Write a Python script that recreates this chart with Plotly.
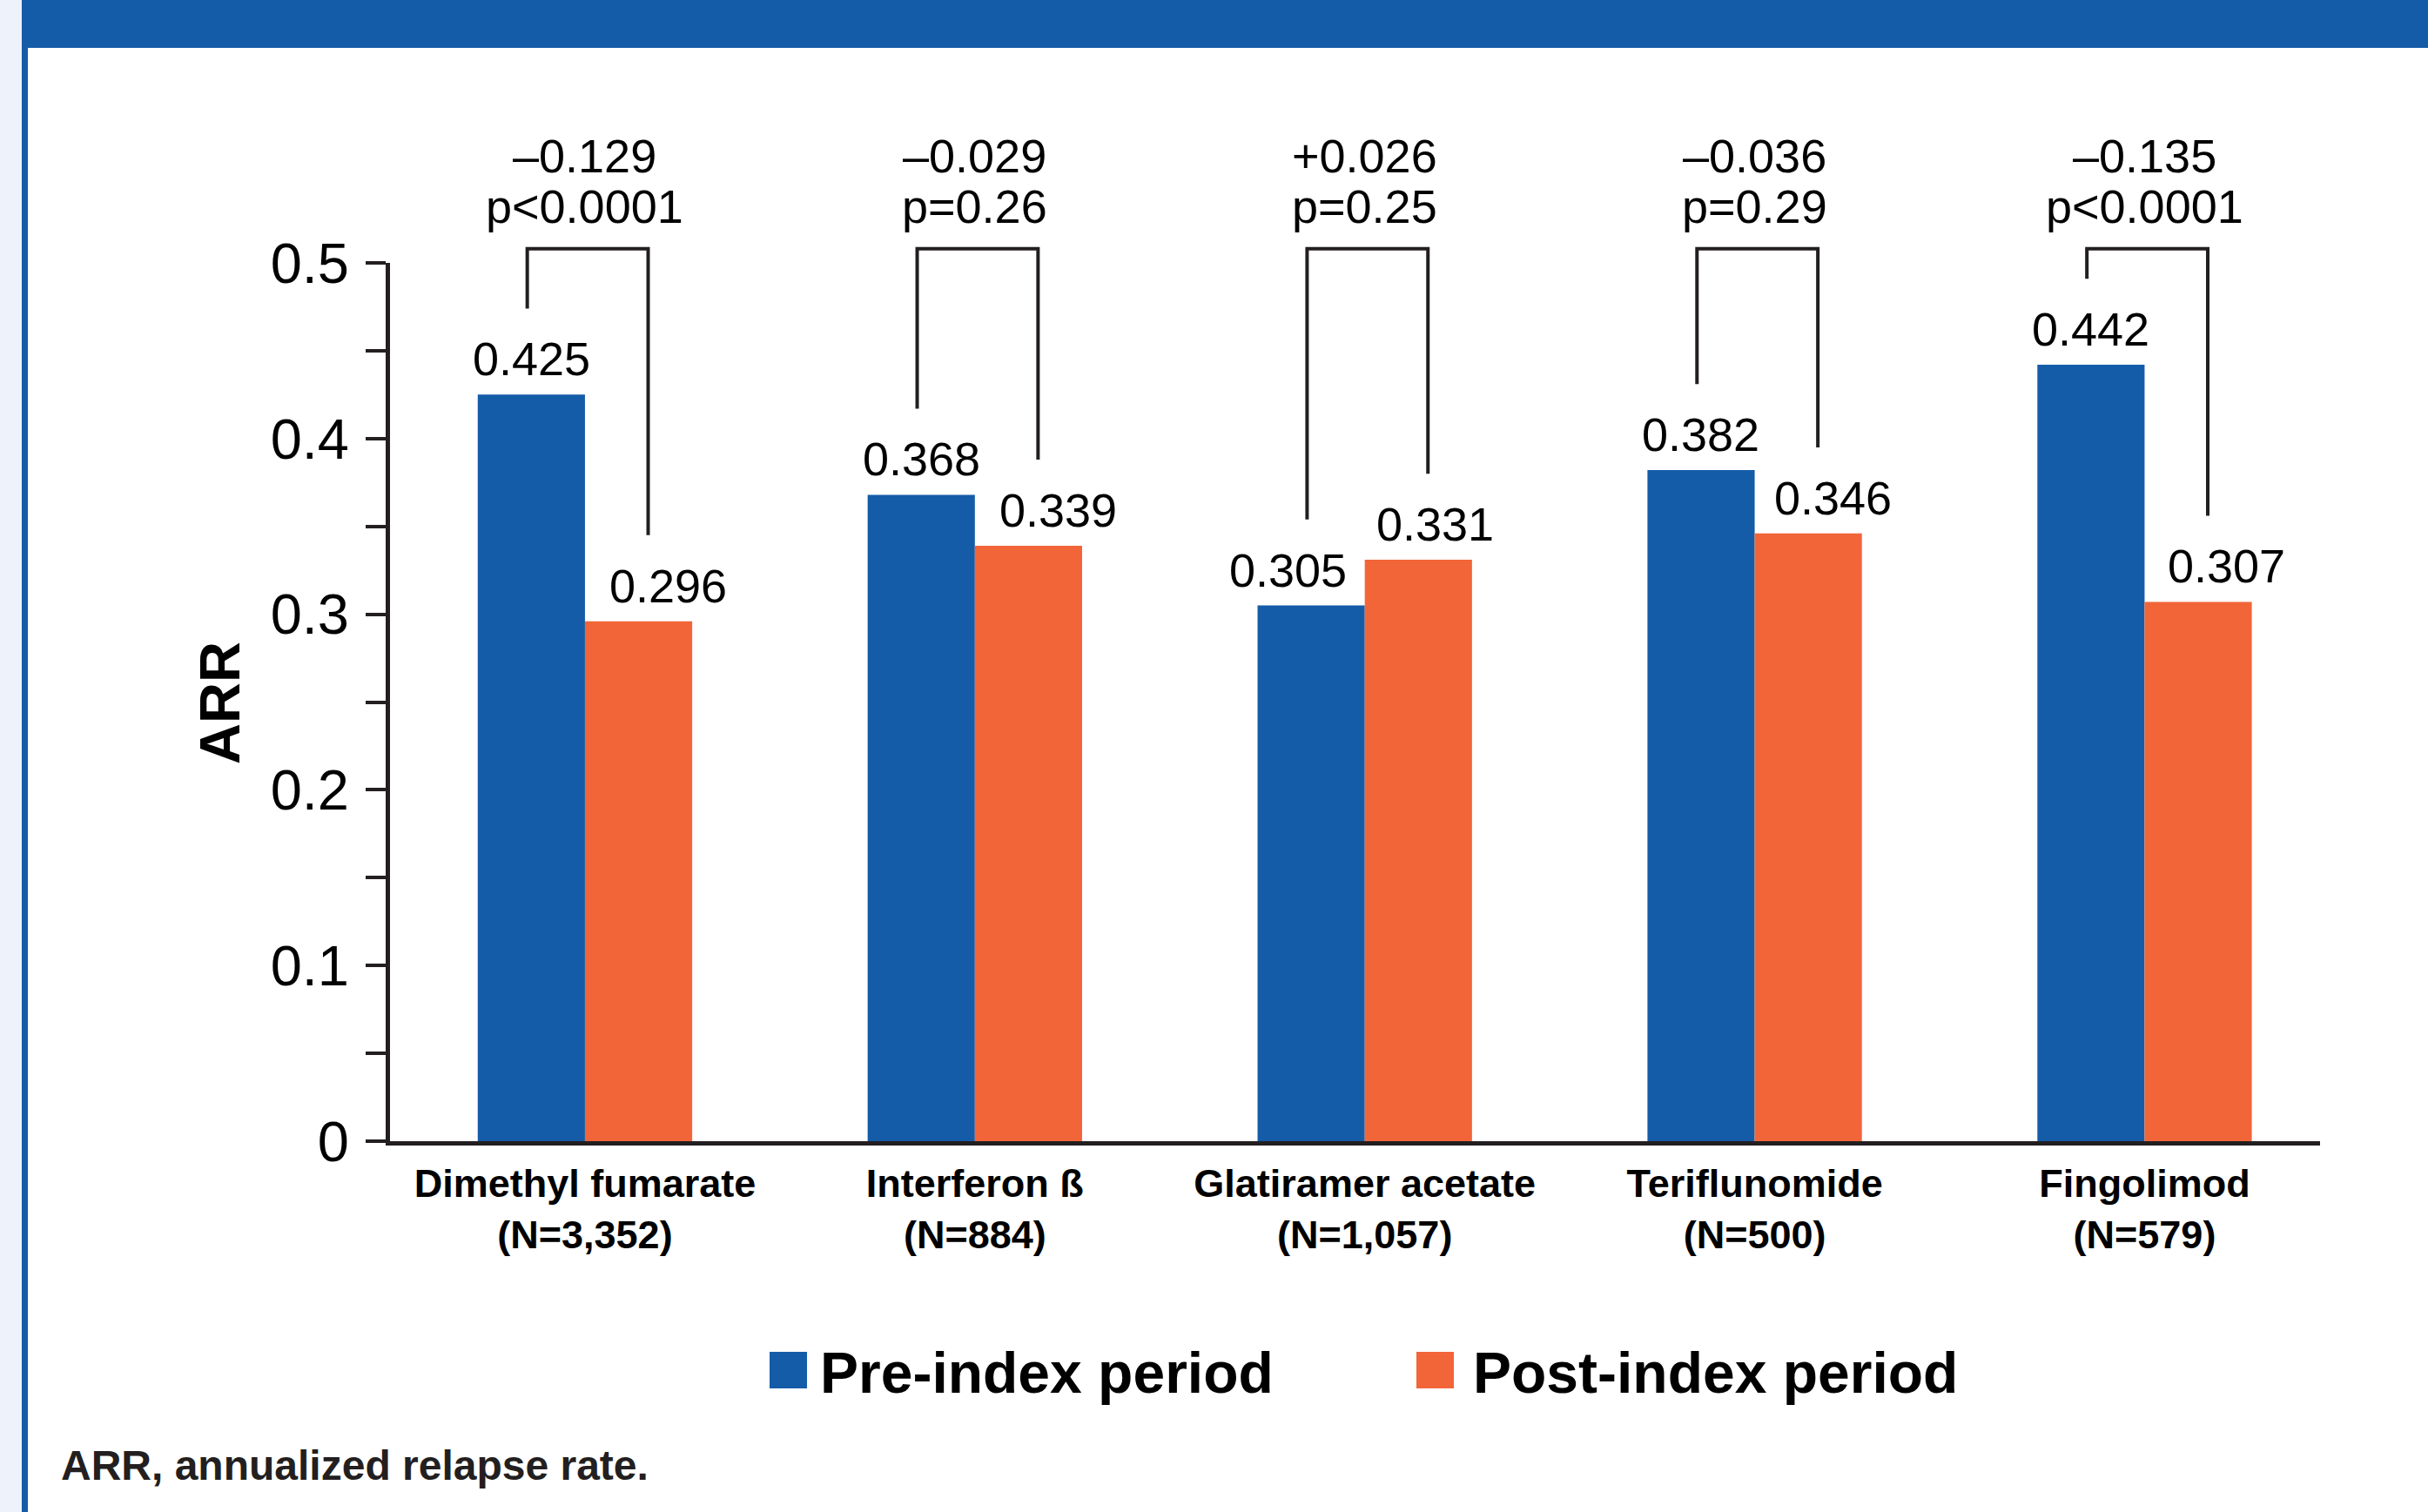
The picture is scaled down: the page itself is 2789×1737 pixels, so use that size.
import plotly.graph_objects as go

# ---------------- data ----------------
drugs = ["Dimethyl fumarate", "Interferon ß", "Glatiramer acetate", "Teriflunomide", "Fingolimod"]
cohort_n = ["3,352", "884", "1,057", "500", "579"]
pre_index = [0.425, 0.368, 0.305, 0.382, 0.442]
post_index = [0.296, 0.339, 0.331, 0.346, 0.307]
differences = ["–0.129", "–0.029", "+0.026", "–0.036", "–0.135"]
p_values = ["p<0.0001", "p=0.26", "p=0.25", "p=0.29", "p<0.0001"]
series_names = ["Pre-index period", "Post-index period"]
y_ticks = [0, 0.1, 0.2, 0.3, 0.4, 0.5]
footnote = "ARR, annualized relapse rate."

# ---------------- styles ----------------
W, H = 2789, 1737
ML, MR, MT, MB = 448, 124, 302, 426
PW, PH = W - ML - MR, H - MT - MB
Y_MAX = 0.5
BLUE = "#155CA8"
ORANGE = "#F26539"
INK = "#231F20"
FONT = "Liberation Sans, Arial, Helvetica, sans-serif"
BARGAP = 0.45
half = (1 - BARGAP) / 4  # bar centre offset from category centre

def px_x(px):
    return (px - ML) / PW

def px_y(py):
    return (H - MB - py) / PH

cat_labels = [f"{d}<br>(N={n})" for d, n in zip(drugs, cohort_n)]
idx = list(range(len(drugs)))

fig = go.Figure()
fig.add_trace(go.Bar(x=idx, y=pre_index, name=series_names[0], marker_color=BLUE,
                     marker_line_width=0, showlegend=False))
fig.add_trace(go.Bar(x=idx, y=post_index, name=series_names[1], marker_color=ORANGE,
                     marker_line_width=0, showlegend=False))

shapes = []
annotations = []

# decorative frame: light strip, blue rule, top banner
shapes.append(dict(type="rect", xref="paper", yref="paper", x0=px_x(0), x1=px_x(25),
                   y0=px_y(H), y1=px_y(0), fillcolor="#EEF2FA", line_width=0, layer="below"))
shapes.append(dict(type="rect", xref="paper", yref="paper", x0=px_x(25), x1=px_x(32),
                   y0=px_y(H), y1=px_y(0), fillcolor=BLUE, line_width=0, layer="below"))
shapes.append(dict(type="rect", xref="paper", yref="paper", x0=px_x(25), x1=px_x(W),
                   y0=px_y(55), y1=px_y(0), fillcolor=BLUE, line_width=0, layer="below"))

# value labels
blue_nudge = [0, 0, -27, 0, 0]
orange_nudge = [34, 34, 19, 28, 32]
for i in idx:
    annotations.append(dict(x=i - half, y=pre_index[i], xref="x", yref="y",
                            text=f"{pre_index[i]:.3f}", showarrow=False, yanchor="middle",
                            yshift=41, xshift=blue_nudge[i],
                            font=dict(family=FONT, size=54, color="black")))
    annotations.append(dict(x=i + half, y=post_index[i], xref="x", yref="y",
                            text=f"{post_index[i]:.3f}", showarrow=False, yanchor="middle",
                            yshift=41, xshift=orange_nudge[i],
                            font=dict(family=FONT, size=54, color="black")))
    # difference and p-value above each group
    annotations.append(dict(x=i, y=Y_MAX, xref="x", yref="y", text=differences[i],
                            showarrow=False, yanchor="middle", yshift=123,
                            font=dict(family=FONT, size=54, color="black")))
    annotations.append(dict(x=i, y=Y_MAX, xref="x", yref="y", text=p_values[i],
                            showarrow=False, yanchor="middle", yshift=65,
                            font=dict(family=FONT, size=54, color="black")))
    # comparison bracket (y in paper units so it may rise above the axis top)
    top = 0.508 / Y_MAX
    xl, xr = i - 0.148, i + 0.162
    yl, yr = (pre_index[i] + 0.049) / Y_MAX, (post_index[i] + 0.049) / Y_MAX
    shapes.append(dict(type="path", xref="x", yref="paper",
                       path=f"M {xl},{yl} L {xl},{top} L {xr},{top} L {xr},{yr}",
                       line=dict(color=INK, width=4)))

# y-axis title
annotations.append(dict(xref="paper", yref="paper", x=px_x(252), y=px_y(808),
                        text="ARR", textangle=-90, showarrow=False,
                        xanchor="center", yanchor="middle",
                        font=dict(family=FONT, size=65, color="black", weight="bold")))

# legend (manual, large swatches)
legend_items = [(BLUE, 884, 940), (ORANGE, 1627, 1690)]
for (col, sx, tx), name in zip(legend_items, series_names):
    shapes.append(dict(type="rect", xref="paper", yref="paper", x0=px_x(sx), x1=px_x(sx + 43),
                       y0=px_y(1595), y1=px_y(1553), fillcolor=col, line_width=0))
    annotations.append(dict(xref="paper", yref="paper", x=px_x(tx), y=px_y(1577),
                            text=name, showarrow=False, xanchor="left", yanchor="middle",
                            font=dict(family=FONT, size=66, color="black", weight="bold")))

# footnote
annotations.append(dict(xref="paper", yref="paper", x=px_x(68), y=px_y(1683),
                        text=footnote, showarrow=False, xanchor="left", yanchor="middle",
                        font=dict(family=FONT, size=48, color=INK, weight="bold")))

fig.update_layout(
    width=W, height=H, autosize=False,
    margin=dict(l=ML, r=MR, t=MT, b=MB, pad=0),
    paper_bgcolor="white", plot_bgcolor="white",
    barmode="group", bargap=BARGAP, bargroupgap=0,
    showlegend=False,
    shapes=shapes, annotations=annotations,
    xaxis=dict(
        range=[-0.5, 4.45], tickmode="array", tickvals=idx, ticktext=cat_labels,
        showline=True, linecolor=INK, linewidth=5, ticks="", showgrid=False, zeroline=False,
        tickfont=dict(family=FONT, size=45, color="black", weight="bold"),
        ticklabelstandoff=5,
    ),
    yaxis=dict(
        range=[0, Y_MAX], tickmode="array", tickvals=y_ticks,
        ticktext=[("%g" % v) for v in y_ticks],
        showline=True, linecolor=INK, linewidth=5, showgrid=False, zeroline=False,
        ticks="outside", ticklen=23, tickwidth=4, tickcolor=INK,
        minor=dict(dtick=0.05, tick0=0, ticks="outside", ticklen=23, tickwidth=4, tickcolor=INK,
                   showgrid=False),
        tickfont=dict(family=FONT, size=65, color="black"),
        ticklabelstandoff=6,
    ),
)

fig.write_html("out.html",
               config={"displayModeBar": False},
               post_script="document.body.style.margin='0';document.body.style.overflow='hidden';")
